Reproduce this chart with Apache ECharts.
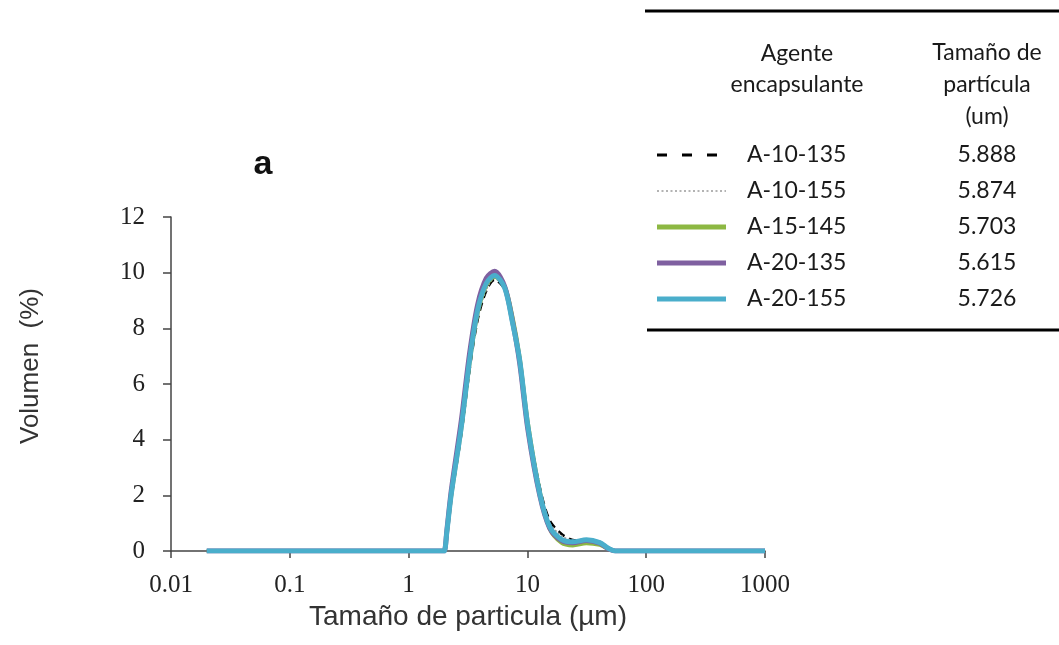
<!DOCTYPE html>
<html>
<head>
<meta charset="utf-8">
<title>Distribución de tamaño de partícula</title>
<script src="https://cdn.jsdelivr.net/npm/echarts@6/dist/echarts.min.js"></script>
<style>
  html, body { margin: 0; padding: 0; background: #fff; }
  #chart { width: 1059px; height: 645px; }
</style>
</head>
<body>
<div id="chart"></div>
<script>
// tamaño de partícula (µm), eje logarítmico
const sizes = [0.02, 0.5, 1.0, 1.95, 2.0, 2.1, 2.29, 2.78, 3.26, 3.81, 4.51, 5.3, 6.44, 7.5, 8.61, 10.1, 12.7, 15.4, 19.3, 24.1, 31.4, 40.7, 48, 55, 100, 1000];

// volumen (%) de cada agente encapsulante
const a10_135 = [0, 0, 0, 0, 0, 0.6, 1.9, 4.2, 6.5, 8.3, 9.35, 9.75, 9.4, 8.35, 6.95, 4.6, 2.3, 1.1, 0.62, 0.4, 0.38, 0.28, 0.1, 0, 0, 0];
const a10_155 = [0, 0, 0, 0, 0, 0.65, 1.95, 4.3, 6.6, 8.4, 9.4, 9.8, 9.4, 8.3, 6.9, 4.55, 2.25, 1.0, 0.55, 0.38, 0.38, 0.28, 0.1, 0, 0, 0];
const a15_145 = [0, 0, 0, 0, 0, 0.65, 2.0, 4.4, 6.75, 8.55, 9.55, 9.85, 9.5, 8.4, 6.95, 4.6, 2.15, 0.8, 0.3, 0.2, 0.28, 0.22, 0.08, 0, 0, 0];
const a20_135 = [0, 0, 0, 0, 0, 0.75, 2.2, 4.7, 7.1, 8.85, 9.8, 10.05, 9.5, 8.25, 6.75, 4.35, 2.0, 0.82, 0.38, 0.3, 0.38, 0.28, 0.08, 0, 0, 0];
const a20_155 = [0, 0, 0, 0, 0, 0.7, 2.07, 4.47, 6.86, 8.66, 9.62, 9.9, 9.45, 8.2, 6.86, 4.47, 2.07, 0.87, 0.42, 0.33, 0.4, 0.3, 0.1, 0, 0, 0];

const names = ["A-10-135", "A-10-155", "A-15-145", "A-20-135", "A-20-155"];
const meanSize = ["5.888", "5.874", "5.703", "5.615", "5.726"];
const xTicks = [0.01, 0.1, 1, 10, 100, 1000];
const yTicks = [0, 2, 4, 6, 8, 10, 12];

const seriesValues = [a10_135, a10_155, a15_145, a20_135, a20_155];
const lineStyles = [
  { color: "#000000", width: 2.5, type: [8, 5] },
  { color: "#9a9a9a", width: 2, type: [2, 2] },
  { color: "#8db843", width: 4, type: "solid" },
  { color: "#7f60a0", width: 5, type: "solid" },
  { color: "#4aaecb", width: 5, type: "solid" },
];

const chart = echarts.init(document.getElementById("chart"));

// tabla de leyenda (a la derecha)
const tableFont = "23px Lato";
const rowY = [155, 191, 227, 263, 299];
const legendGraphics = [
  { type: "line", shape: { x1: 645, y1: 11, x2: 1059, y2: 11 }, style: { stroke: "#000", lineWidth: 3 } },
  { type: "line", shape: { x1: 647, y1: 330, x2: 1059, y2: 330 }, style: { stroke: "#000", lineWidth: 3 } },
  { type: "text", x: 797, y: 69, style: { text: "Agente\nencapsulante", font: tableFont, fill: "#1a1a1a", align: "center", verticalAlign: "middle", lineHeight: 31 } },
  { type: "text", x: 987, y: 85, style: { text: "Tamaño de\npartícula\n(um)", font: tableFont, fill: "#1a1a1a", align: "center", verticalAlign: "middle", lineHeight: 32 } },
];
names.forEach((n, i) => {
  const ls = lineStyles[i];
  legendGraphics.push({
    type: "line",
    shape: { x1: 657, y1: rowY[i], x2: 726, y2: rowY[i] },
    style: {
      stroke: ls.color,
      lineWidth: i === 0 ? 3 : (i === 1 ? 1.5 : 5),
      lineDash: i === 0 ? [10, 15] : (i === 1 ? [2, 2.5] : null),
    },
  });
  legendGraphics.push({ type: "text", x: 747, y: rowY[i], style: { text: n, font: tableFont, fill: "#1a1a1a", align: "left", verticalAlign: "middle" } });
  legendGraphics.push({ type: "text", x: 987, y: rowY[i], style: { text: meanSize[i], font: tableFont, fill: "#1a1a1a", align: "center", verticalAlign: "middle" } });
});

const option = {
  backgroundColor: "#ffffff",
  animation: false,
  grid: { left: 171, right: 294, top: 217, bottom: 94, containLabel: false },
  xAxis: {
    type: "log",
    logBase: 10,
    min: xTicks[0],
    max: xTicks[xTicks.length - 1],
    name: "Tamaño de particula (µm)",
    nameLocation: "middle",
    nameGap: 41,
    nameTextStyle: { fontFamily: "Liberation Sans", fontSize: 28, color: "#333" },
    axisLine: { lineStyle: { color: "#444", width: 1.5 } },
    axisTick: { show: true, length: 7, lineStyle: { color: "#444", width: 1.5 } },
    axisLabel: {
      margin: 22,
      fontFamily: "Liberation Serif",
      fontSize: 25,
      color: "#222",
      formatter: (v) => String(parseFloat(Number(v).toPrecision(3))),
    },
    splitLine: { show: false },
  },
  yAxis: {
    type: "value",
    min: yTicks[0],
    max: yTicks[yTicks.length - 1],
    interval: 2,
    axisLine: { show: true, lineStyle: { color: "#444", width: 1.5 } },
    axisTick: { show: true, length: 8, lineStyle: { color: "#444", width: 1.5 } },
    axisLabel: { margin: 26, fontFamily: "Liberation Serif", fontSize: 25, color: "#222" },
    splitLine: { show: false },
  },
  graphic: [
    { type: "text", x: 263, y: 165, style: { text: "a", font: "bold 34px Liberation Sans", fill: "#111", align: "center", verticalAlign: "middle" } },
    { type: "text", x: 31, y: 366, rotation: Math.PI / 2, style: { text: "Volumen  (%)", font: "26px Liberation Sans", fill: "#333", align: "center", verticalAlign: "middle" } },
  ].concat(legendGraphics),
  series: names.map((n, i) => ({
    name: n,
    type: "line",
    data: sizes.map((s, j) => [s, seriesValues[i][j]]),
    showSymbol: false,
    smooth: 0.3,
    lineStyle: lineStyles[i],
    z: 2 + i,
  })),
};

chart.setOption(option);
</script>
</body>
</html>
